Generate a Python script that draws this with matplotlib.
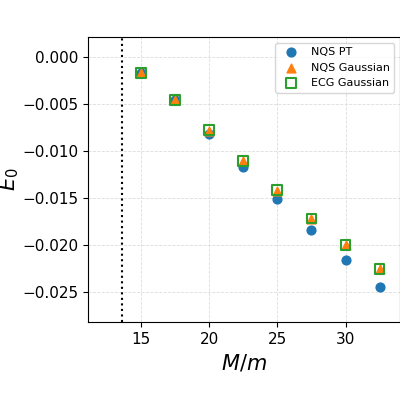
import matplotlib
matplotlib.use("Agg")
import matplotlib.pyplot as plt

mass_ratio = [15, 17.5, 20, 22.5, 25, 27.5, 30, 32.5]
nqs_pt = [-0.0017, -0.0046, -0.0082, -0.0117, -0.0151, -0.0184, -0.0216, -0.0245]
nqs_gauss = [-0.0017, -0.0046, -0.0079, -0.0111, -0.0143, -0.0172, -0.0200, -0.0226]
ecg_gauss = [-0.0017, -0.0046, -0.0078, -0.0111, -0.0142, -0.0172, -0.0200, -0.0226]
threshold = 13.6

fig = plt.figure(figsize=(4, 4), dpi=100)
ax = fig.add_axes([0.22, 0.195, 0.78, 0.7125])
ax.grid(True, linestyle='--', color='#dddddd', linewidth=0.6)
ax.set_axisbelow(True)
ax.scatter(mass_ratio, nqs_pt, color='#1f77b4', s=40, label='NQS PT', zorder=3)
ax.scatter(mass_ratio, nqs_gauss, color='#ff7f0e', marker='^', s=40, label='NQS Gaussian', zorder=4)
ax.scatter(mass_ratio, ecg_gauss, facecolors='none', edgecolors='#2ca02c', marker='s', s=50, linewidths=1.5, label='ECG Gaussian', zorder=5)
ax.axvline(threshold, color='black', linestyle=':', linewidth=1.5)
ax.set_xlim(11.1, 34.0)
ax.set_ylim(-0.0282, 0.0021)
ax.set_xticks([15, 20, 25, 30])
ax.set_yticks([0, -0.005, -0.01, -0.015, -0.02, -0.025])
ax.set_yticklabels(['0.000', '−0.005', '−0.010', '−0.015', '−0.020', '−0.025'])
ax.tick_params(labelsize=11)
ax.set_xlabel('$M/m$', fontsize=15)
ax.set_ylabel('$E_0$', fontsize=15)
ax.yaxis.set_label_coords(-0.215, 0.5)
ax.legend(loc='upper right', fontsize=8)
fig.savefig('out.png', dpi=100)
